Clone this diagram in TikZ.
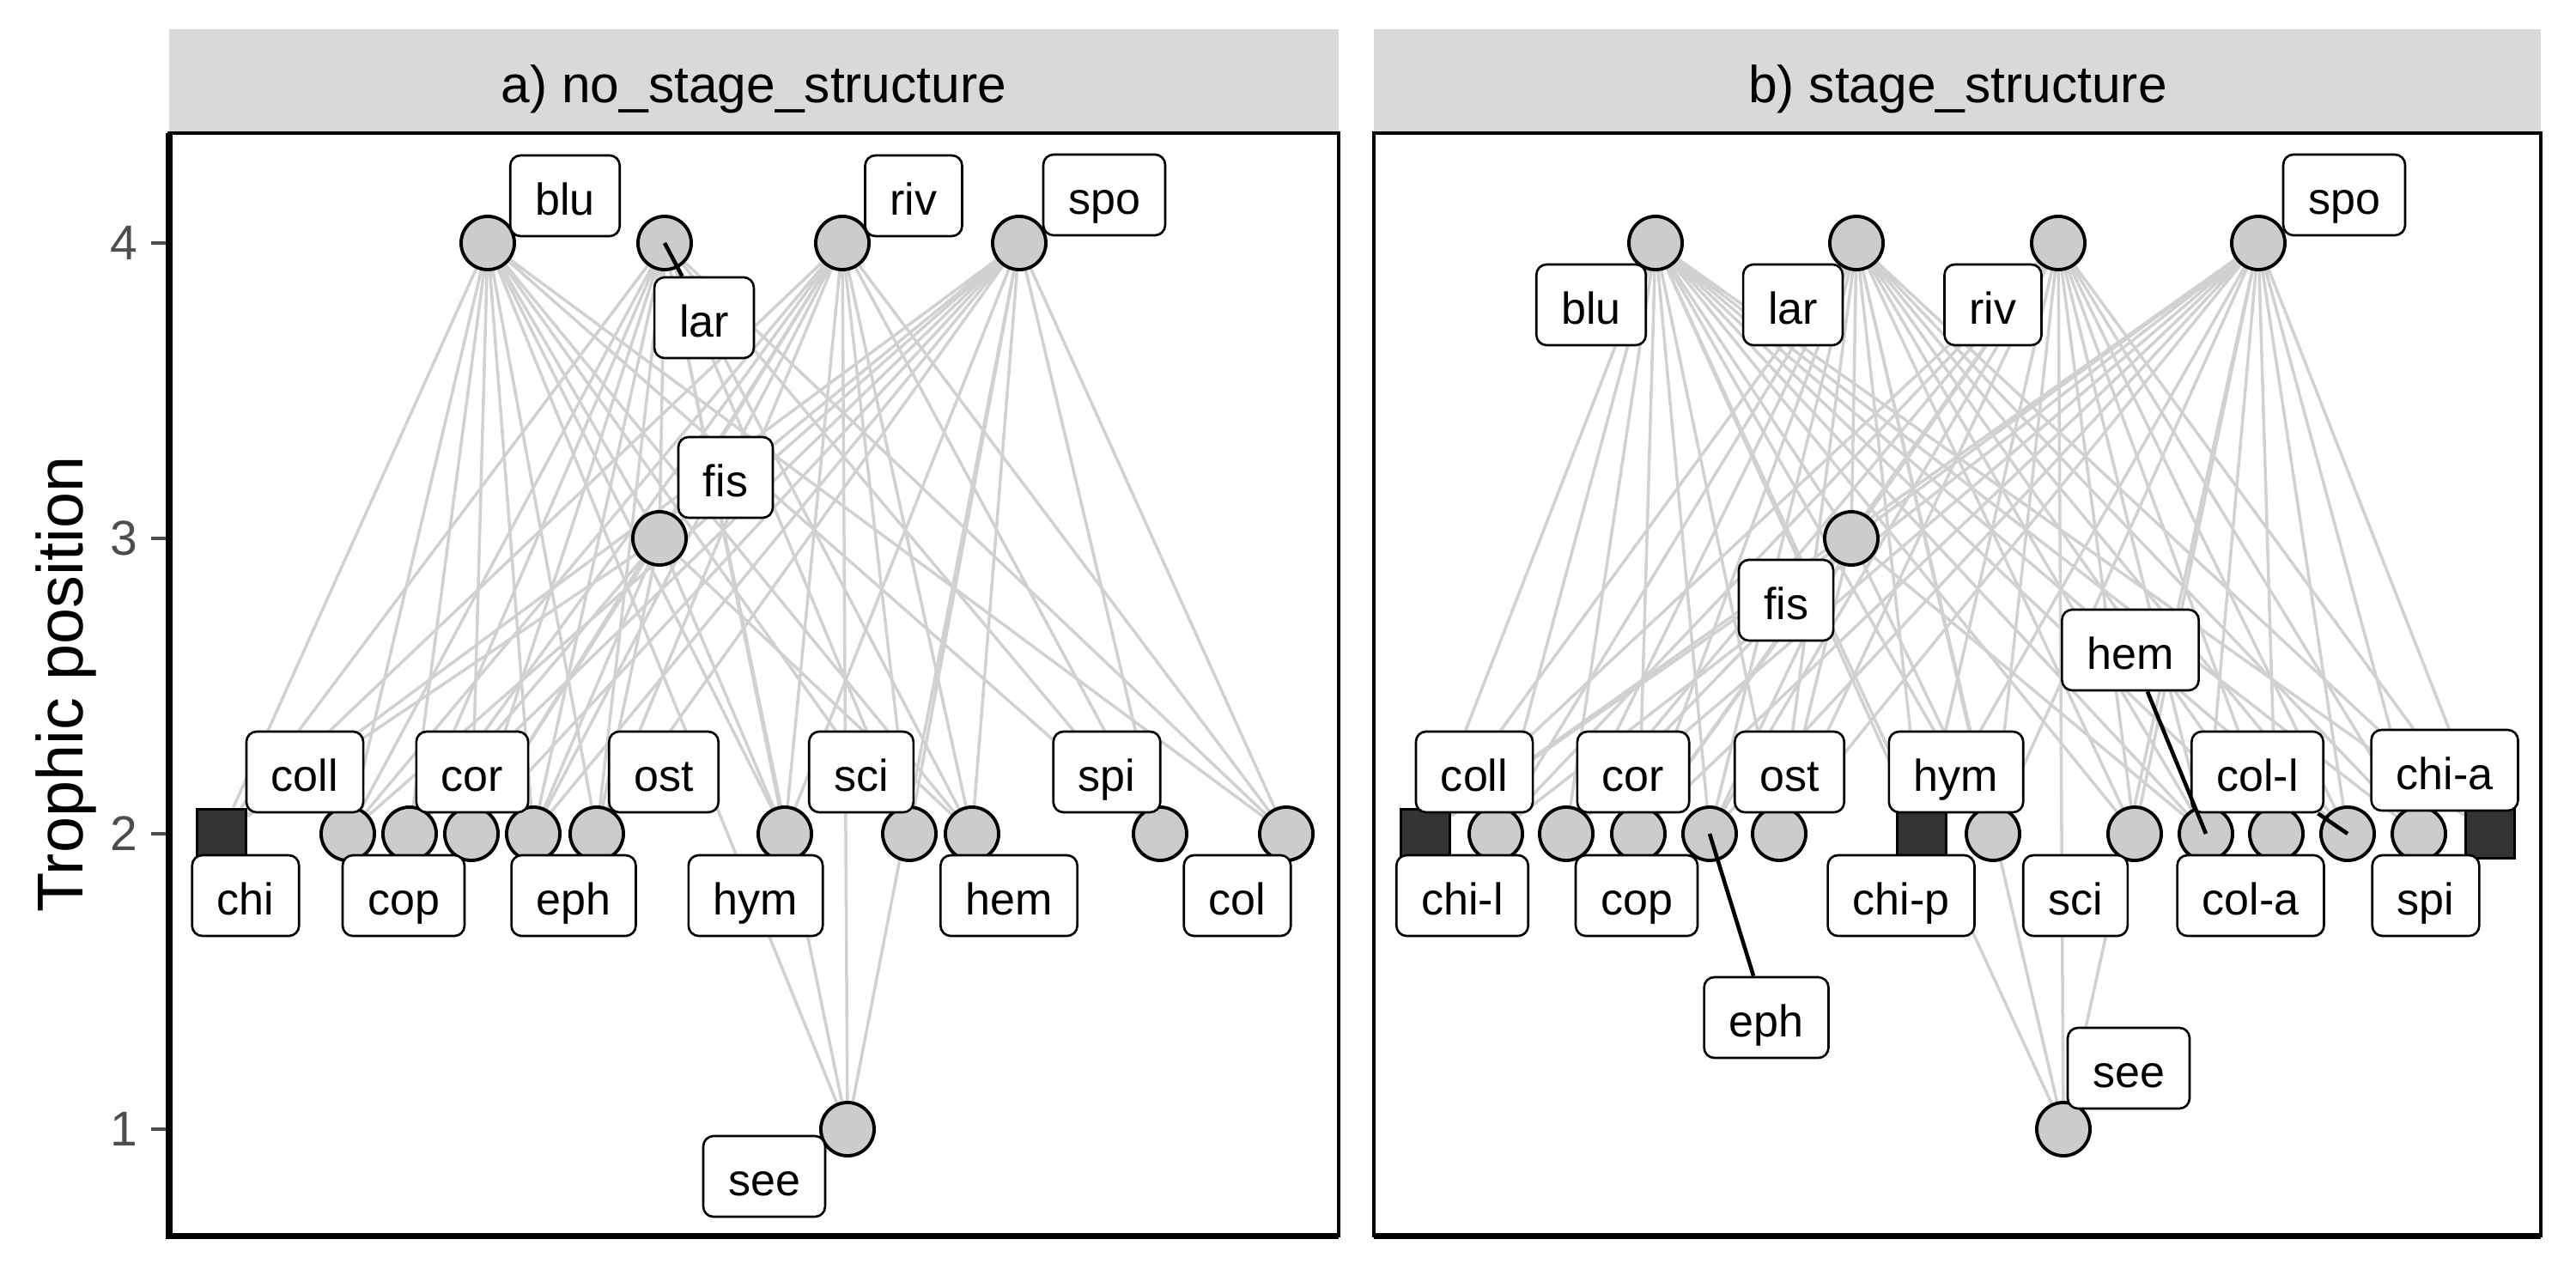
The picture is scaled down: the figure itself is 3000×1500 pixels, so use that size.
\documentclass[tikz,border=0pt]{standalone}
\usepackage{fontspec}
\setmainfont{Liberation Sans}
\usetikzlibrary{backgrounds}

\definecolor{webgray}{RGB}{209,209,209}
\definecolor{ptgray}{RGB}{204,204,204}
\definecolor{stagegray}{RGB}{51,51,51}
\definecolor{stripgray}{RGB}{217,217,217}
\definecolor{tickgray}{RGB}{77,77,77}

\newcommand{\labfont}{\fontsize{14.8pt}{17pt}\selectfont}
\newcommand{\stripfont}{\fontsize{17.2pt}{20pt}\selectfont}
\newcommand{\tickfont}{\fontsize{16.2pt}{19pt}\selectfont}
\newcommand{\titlefont}{\fontsize{21.5pt}{25pt}\selectfont}

\tikzset{
  web/.style = {draw=webgray, line width=1pt},
  sp/.style = {circle, draw=black, line width=1.1pt, fill=ptgray, minimum size=0.62cm, inner sep=0pt},
  stage/.style = {rectangle, draw=black, line width=1.1pt, fill=stagegray, minimum size=0.57cm, inner sep=0pt},
  lab/.style = {draw=black, fill=white, line width=0.75pt, rounded corners=0.12cm, minimum height=0.94cm,
                inner xsep=0.29cm, inner ysep=0pt, text height=0.5cm, text depth=0.06cm, font=\labfont},
  lead/.style = {draw=black, line width=1.3pt},
}

\begin{document}
\begin{tikzpicture}[x = 0.01cm, y = -0.01cm]
	\useasboundingbox (0,0) rectangle (3000,1500);

	% axis
	\node[font=\titlefont, rotate=90, anchor=base] (ytitle) at (97,797) {Trophic position};
	\draw[tickgray, line width=1pt] (176,283) -- (197,283) (176,627) -- (197,627) (176,971) -- (197,971) (176,1315) -- (197,1315);
	\node[font=\tickfont, text=tickgray, anchor=east, inner sep=0pt] (t4) at (161,283) {4};
	\node[font=\tickfont, text=tickgray, anchor=east, inner sep=0pt] (t3) at (161,627) {3};
	\node[font=\tickfont, text=tickgray, anchor=east, inner sep=0pt] (t2) at (161,971) {2};
	\node[font=\tickfont, text=tickgray, anchor=east, inner sep=0pt] (t1) at (161,1315) {1};

	% panel a
	\fill[stripgray] (197,34) rectangle (1559,155);
	\node[font=\stripfont, anchor=base] (a-strip) at (878,120) {a) no\_stage\_structure};
	\draw[line width=1pt] (197,155) rectangle (1559,1439);
	\draw[line width=2pt] (197,155) -- (197,1439) -- (1559,1439);

	\node[sp] (a-blu) at (568,283) {};
	\node[sp] (a-lar) at (774,283) {};
	\node[sp] (a-riv) at (981,283) {};
	\node[sp] (a-spo) at (1187,283) {};
	\node[sp] (a-fis) at (768,627) {};
	\node[stage] (a-chi) at (258,971) {};
	\node[sp] (a-coll) at (405,971) {};
	\node[sp] (a-cop) at (477,971) {};
	\node[sp] (a-cor) at (549,971) {};
	\node[sp] (a-eph) at (621,971) {};
	\node[sp] (a-ost) at (695,971) {};
	\node[sp] (a-hym) at (914,971) {};
	\node[sp] (a-sci) at (1059,971) {};
	\node[sp] (a-hem) at (1132,971) {};
	\node[sp] (a-spi) at (1351,971) {};
	\node[sp] (a-col) at (1498,971) {};
	\node[sp] (a-see) at (987,1315) {};

	\node[lab] (a-blu-lab) at (658,228) {blu};
	\node[lab] (a-lar-lab) at (820,370) {lar};
	\node[lab] (a-riv-lab) at (1064,228) {riv};
	\node[lab] (a-spo-lab) at (1286,227) {spo};
	\node[lab] (a-fis-lab) at (845,556) {fis};
	\node[lab] (a-coll-lab) at (355,899) {coll};
	\node[lab] (a-cor-lab) at (550,899) {cor};
	\node[lab] (a-ost-lab) at (773,899) {ost};
	\node[lab] (a-sci-lab) at (1003,899) {sci};
	\node[lab] (a-spi-lab) at (1289,899) {spi};
	\node[lab] (a-chi-lab) at (286,1043) {chi};
	\node[lab] (a-cop-lab) at (470,1043) {cop};
	\node[lab] (a-eph-lab) at (668,1043) {eph};
	\node[lab] (a-hym-lab) at (880,1043) {hym};
	\node[lab] (a-hem-lab) at (1175,1043) {hem};
	\node[lab] (a-col-lab) at (1441,1043) {col};
	\node[lab] (a-see-lab) at (890,1370) {see};
	\draw[lead] (a-lar.center) -- (a-lar-lab);

	% panel b
	\fill[stripgray] (1600,34) rectangle (2959,155);
	\node[font=\stripfont, anchor=base] (b-strip) at (2280,120) {b) stage\_structure};
	\draw[line width=1pt] (1600,155) rectangle (2959,1439);
	\draw[line width=2pt] (1600,1439) -- (2959,1439);

	\node[sp] (b-blu) at (1928,283) {};
	\node[sp] (b-lar) at (2162,283) {};
	\node[sp] (b-riv) at (2397,283) {};
	\node[sp] (b-spo) at (2630,283) {};
	\node[sp] (b-fis) at (2156,627) {};
	\node[stage] (b-chi-l) at (1660,971) {};
	\node[sp] (b-coll) at (1742,971) {};
	\node[sp] (b-cop) at (1824,971) {};
	\node[sp] (b-cor) at (1908,971) {};
	\node[sp] (b-eph) at (1991,971) {};
	\node[sp] (b-ost) at (2072,971) {};
	\node[stage] (b-chi-p) at (2238,971) {};
	\node[sp] (b-hym) at (2321,971) {};
	\node[sp] (b-sci) at (2486,971) {};
	\node[sp] (b-hem) at (2569,971) {};
	\node[sp] (b-col-a) at (2651,971) {};
	\node[sp] (b-col-l) at (2734,971) {};
	\node[sp] (b-spi) at (2817,971) {};
	\node[stage] (b-chi-a) at (2900,971) {};
	\node[sp] (b-see) at (2403,1315) {};

	\node[lab] (b-blu-lab) at (1853,355) {blu};
	\node[lab] (b-lar-lab) at (2088,355) {lar};
	\node[lab] (b-riv-lab) at (2321,355) {riv};
	\node[lab] (b-spo-lab) at (2730,227) {spo};
	\node[lab] (b-fis-lab) at (2080,699) {fis};
	\node[lab] (b-hem-lab) at (2481,757) {hem};
	\node[lab] (b-coll-lab) at (1717,899) {coll};
	\node[lab] (b-cor-lab) at (1902,899) {cor};
	\node[lab] (b-ost-lab) at (2084,899) {ost};
	\node[lab] (b-hym-lab) at (2278,899) {hym};
	\node[lab] (b-col-l-lab) at (2629,899) {col-l};
	\node[lab] (b-chi-a-lab) at (2847,897) {chi-a};
	\node[lab] (b-chi-l-lab) at (1703,1043) {chi-l};
	\node[lab] (b-cop-lab) at (1906,1043) {cop};
	\node[lab] (b-chi-p-lab) at (2214,1043) {chi-p};
	\node[lab] (b-sci-lab) at (2417,1043) {sci};
	\node[lab] (b-col-a-lab) at (2621,1043) {col-a};
	\node[lab] (b-spi-lab) at (2825,1043) {spi};
	\node[lab] (b-eph-lab) at (2057,1185) {eph};
	\node[lab] (b-see-lab) at (2479,1244) {see};
	\draw[lead] (b-eph.center) -- (b-eph-lab);
	\draw[lead] (b-hem.center) -- (b-hem-lab);
	\draw[lead] (b-col-l.center) -- (b-col-l-lab);

	% feeding links
	\begin{scope}[on background layer]
		\draw[web] (a-blu) -- (a-chi) (a-blu) -- (a-coll) (a-blu) -- (a-cop) (a-blu) -- (a-cor) (a-blu) -- (a-eph) (a-blu) -- (a-ost)
			(a-blu) -- (a-hym) (a-blu) -- (a-sci) (a-blu) -- (a-hem) (a-blu) -- (a-spi) (a-blu) -- (a-col) (a-blu) -- (a-see) (a-blu) -- (a-fis);
		\draw[web] (a-lar) -- (a-chi) (a-lar) -- (a-coll) (a-lar) -- (a-cop) (a-lar) -- (a-cor) (a-lar) -- (a-eph) (a-lar) -- (a-ost)
			(a-lar) -- (a-hym) (a-lar) -- (a-sci) (a-lar) -- (a-hem) (a-lar) -- (a-spi) (a-lar) -- (a-col) (a-lar) -- (a-see) (a-lar) -- (a-fis);
		\draw[web] (a-riv) -- (a-chi) (a-riv) -- (a-coll) (a-riv) -- (a-cop) (a-riv) -- (a-cor) (a-riv) -- (a-eph) (a-riv) -- (a-ost)
			(a-riv) -- (a-hym) (a-riv) -- (a-sci) (a-riv) -- (a-hem) (a-riv) -- (a-spi) (a-riv) -- (a-col) (a-riv) -- (a-see) (a-riv) -- (a-fis);
		\draw[web] (a-spo) -- (a-chi) (a-spo) -- (a-coll) (a-spo) -- (a-cop) (a-spo) -- (a-cor) (a-spo) -- (a-eph) (a-spo) -- (a-ost)
			(a-spo) -- (a-hym) (a-spo) -- (a-sci) (a-spo) -- (a-hem) (a-spo) -- (a-spi) (a-spo) -- (a-col) (a-spo) -- (a-see) (a-spo) -- (a-fis);
		\draw[web] (a-fis) -- (a-chi) (a-fis) -- (a-cop) (a-fis) -- (a-cor) (a-fis) -- (a-eph) (a-fis) -- (a-ost) (a-fis) -- (a-hym) (a-fis) -- (a-hem);

		\draw[web] (b-blu) -- (b-chi-l) (b-blu) -- (b-coll) (b-blu) -- (b-cop) (b-blu) -- (b-cor) (b-blu) -- (b-eph) (b-blu) -- (b-ost) (b-blu) -- (b-chi-p)
			(b-blu) -- (b-hym) (b-blu) -- (b-sci) (b-blu) -- (b-hem) (b-blu) -- (b-col-a) (b-blu) -- (b-col-l) (b-blu) -- (b-spi) (b-blu) -- (b-chi-a)
			(b-blu) -- (b-see) (b-blu) -- (b-fis);
		\draw[web] (b-lar) -- (b-chi-l) (b-lar) -- (b-coll) (b-lar) -- (b-cop) (b-lar) -- (b-cor) (b-lar) -- (b-eph) (b-lar) -- (b-ost) (b-lar) -- (b-chi-p)
			(b-lar) -- (b-hym) (b-lar) -- (b-sci) (b-lar) -- (b-hem) (b-lar) -- (b-col-a) (b-lar) -- (b-col-l) (b-lar) -- (b-spi) (b-lar) -- (b-chi-a)
			(b-lar) -- (b-see) (b-lar) -- (b-fis);
		\draw[web] (b-riv) -- (b-chi-l) (b-riv) -- (b-coll) (b-riv) -- (b-cop) (b-riv) -- (b-cor) (b-riv) -- (b-eph) (b-riv) -- (b-ost) (b-riv) -- (b-chi-p)
			(b-riv) -- (b-hym) (b-riv) -- (b-sci) (b-riv) -- (b-hem) (b-riv) -- (b-col-a) (b-riv) -- (b-col-l) (b-riv) -- (b-spi) (b-riv) -- (b-chi-a)
			(b-riv) -- (b-see) (b-riv) -- (b-fis);
		\draw[web] (b-spo) -- (b-chi-l) (b-spo) -- (b-coll) (b-spo) -- (b-cop) (b-spo) -- (b-cor) (b-spo) -- (b-eph) (b-spo) -- (b-ost) (b-spo) -- (b-chi-p)
			(b-spo) -- (b-hym) (b-spo) -- (b-sci) (b-spo) -- (b-hem) (b-spo) -- (b-col-a) (b-spo) -- (b-col-l) (b-spo) -- (b-spi) (b-spo) -- (b-chi-a)
			(b-spo) -- (b-see) (b-spo) -- (b-fis);
		\draw[web] (b-fis) -- (b-chi-l) (b-fis) -- (b-cop) (b-fis) -- (b-cor) (b-fis) -- (b-eph) (b-fis) -- (b-ost) (b-fis) -- (b-hym) (b-fis) -- (b-hem);
	\end{scope}
\end{tikzpicture}
\end{document}
